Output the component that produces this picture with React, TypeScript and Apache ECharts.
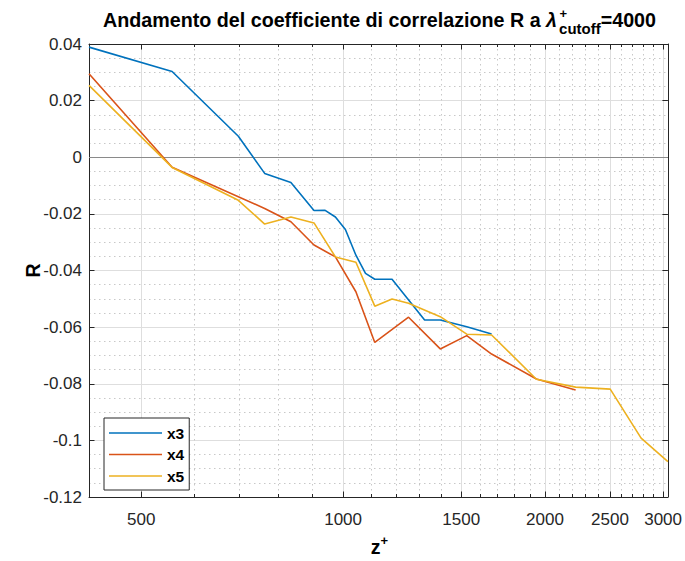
import React, { useEffect, useRef } from "react";
import * as echarts from "echarts";

// ---- data ----
const seriesNames = ["x3", "x4", "x5"];

const zX3 = [418, 556, 698, 764, 836, 905, 939, 974, 1008, 1045, 1080, 1115, 1183, 1323, 1396, 1529, 1665];
const rX3 = [0.0389, 0.0303, 0.0074, -0.0057, -0.0089, -0.0188, -0.0187, -0.0211, -0.0255, -0.0346, -0.041, -0.0431, -0.0431, -0.0575, -0.0575, -0.0599, -0.0624];

const zX4 = [418, 556, 764, 836, 905, 974, 1045, 1115, 1252, 1396, 1529, 1665, 1942, 2222];
const rX4 = [0.0295, -0.0035, -0.0181, -0.0228, -0.031, -0.0352, -0.0475, -0.0654, -0.0565, -0.0677, -0.063, -0.0695, -0.0783, -0.0822];

const zX5 = [418, 556, 698, 764, 836, 905, 974, 1045, 1115, 1183, 1252, 1396, 1529, 1665, 1942, 2222, 2502, 2782, 3050];
const rX5 = [0.0254, -0.0036, -0.0152, -0.0236, -0.0211, -0.0232, -0.0352, -0.0371, -0.0526, -0.0501, -0.0516, -0.0563, -0.0625, -0.0628, -0.0784, -0.0812, -0.0819, -0.0992, -0.1075];

const xMajorTicks = [500, 1000, 1500, 2000, 2500, 3000];
const xMinorTicks = [600, 700, 800, 900, 1100, 1200, 1300, 1400, 1600, 1700, 1800, 1900, 2100, 2200, 2300, 2400, 2600, 2700, 2800, 2900];
const yMin = -0.12;
const yMax = 0.04;
const yInterval = 0.02;

const titleMain = "Andamento del coefficiente di correlazione R a ";
const titleLambda = "λ";
const titleSup = "+";
const titleSub = "cutoff";
const titleEnd = "=4000";

const colors = ["#0072BD", "#D95319", "#EDB120"];

// ---- layout ----
const W = 685;
const H = 561;
const G_LEFT = 89;
const G_RIGHT = 15;
const G_TOP = 44;
const G_BOTTOM = 64;
const FONT = "'Liberation Sans', Arial, Helvetica, sans-serif";
const AX = "#262626";

function textWidth(t: string, font: string): number {
  const c = document.createElement("canvas").getContext("2d");
  if (!c) return t.length * 10;
  c.font = font;
  return c.measureText(t).width;
}

// y for verticalAlign middle so that alphabetic baseline lands on `base`
const mid = (base: number, size: number) => base - 0.3465 * size;

export default function App() {
  const ref = useRef<HTMLDivElement>(null);

  useEffect(() => {
    document.body.style.margin = "0";
    if (!ref.current) return;
    const chart = echarts.init(ref.current, undefined, { renderer: "svg" });

    const lg = (v: number) => Math.log10(v);
    const allZ = [...zX3, ...zX4, ...zX5];
    const xMin = lg(Math.min(...allZ));
    const xMax = lg(Math.max(...allZ));
    const majorsL = xMajorTicks.map(lg);
    const minorsL = xMinorTicks.map(lg);

    const zs = [zX3, zX4, zX5];
    const rs = [rX3, rX4, rX5];

    // ---- title layout ----
    const TS = 19.7;
    const SS = 15;
    const PS = 13;
    const fMain = `bold ${TS}px ${FONT}`;
    const fLam = `italic bold ${TS}px ${FONT}`;
    const wMain = textWidth(titleMain, fMain);
    const wLam = textWidth(titleLambda, fLam);
    const wSup = textWidth(titleSup, `bold ${PS}px ${FONT}`);
    const wSub = textWidth(titleSub, `bold ${SS}px ${FONT}`);
    const wEnd = textWidth(titleEnd, fMain);
    const gap = 2;
    const total = wMain + wLam + gap + Math.max(wSup, wSub) + wEnd;
    const cx = G_LEFT + (W - G_LEFT - G_RIGHT) / 2;
    const x0 = cx - total / 2;
    const baseT = 26.7;
    const txt = (x: number, y: number, text: string, size: number, extra: any = {}) => ({
      type: "text",
      x,
      y,
      silent: true,
      style: {
        text,
        fontSize: size,
        fontWeight: "bold",
        fontFamily: FONT,
        fill: "#000",
        align: "left",
        verticalAlign: "middle",
        ...extra,
      },
    });

    const xs = x0 + wMain + wLam + gap;
    const graphics: any[] = [
      txt(x0, mid(baseT, TS), titleMain, TS),
      txt(x0 + wMain, mid(baseT, TS), titleLambda, TS, { fontStyle: "italic" }),
      txt(xs + 0.5, mid(18.3, PS), titleSup, PS, { lineHeight: 9 }),
      txt(xs, mid(33.6, SS), titleSub, SS, { lineHeight: 11 }),
      txt(xs + Math.max(wSup, wSub), mid(baseT, TS), titleEnd, TS),
    ];

    // x-axis name z^+
    const NS = 19.5;
    const wz = textWidth("z", `bold ${NS}px ${FONT}`);
    const zx0 = cx - (wz + textWidth("+", `bold 13px ${FONT}`)) / 2;
    graphics.push(txt(zx0, mid(554, NS), "z", NS, { lineHeight: 12 }));
    graphics.push(txt(zx0 + wz, mid(545, 13), "+", 13, { lineHeight: 8 }));

    const baseX = { type: "value", min: xMin, max: xMax, gridIndex: 0 };
    const lineSt = { color: AX, width: 1 };

    const option: any = {
      animation: false,
      backgroundColor: "#fff",
      color: colors,
      grid: { left: G_LEFT, right: G_RIGHT, top: G_TOP, bottom: G_BOTTOM, containLabel: false },
      legend: {
        orient: "vertical",
        left: 104,
        top: 418,
        data: seriesNames,
        icon: "rect",
        itemWidth: 53,
        itemHeight: 1.6,
        itemGap: 1.5,
        padding: [5, 5, 4, 5],
        borderColor: AX,
        borderWidth: 1,
        borderRadius: 0,
        backgroundColor: "#fff",
        textStyle: { fontSize: 15.5, fontWeight: "bold", color: "#000", fontFamily: FONT, lineHeight: 20 },
      },
      xAxis: [
        {
          ...baseX,
          position: "bottom",
          axisLine: { show: true, onZero: false, lineStyle: lineSt },
          axisTick: { show: true, inside: true, length: 5.5, customValues: majorsL, lineStyle: lineSt },
          axisLabel: {
            customValues: majorsL,
            formatter: (v: number) => String(Math.round(Math.pow(10, v))),
            margin: 14,
            fontSize: 17,
            color: AX,
            fontFamily: FONT,
          },
          splitLine: { show: true, lineStyle: { color: "#dedede", width: 1 } },
        },
        {
          ...baseX,
          position: "bottom",
          axisLine: { show: false, onZero: false },
          axisTick: { show: true, inside: true, length: 3, customValues: minorsL, lineStyle: lineSt },
          axisLabel: { show: false, customValues: minorsL },
          splitLine: { show: true, lineStyle: { color: "#c8c8c8", width: 1, type: [1.5, 3.5] } },
        },
        {
          ...baseX,
          position: "top",
          axisLine: { show: true, onZero: false, lineStyle: lineSt },
          axisTick: { show: true, inside: true, length: 5.5, customValues: majorsL, lineStyle: lineSt },
          axisLabel: { show: false, customValues: majorsL },
          splitLine: { show: false },
        },
        {
          ...baseX,
          position: "top",
          axisLine: { show: false, onZero: false },
          axisTick: { show: true, inside: true, length: 3, customValues: minorsL, lineStyle: lineSt },
          axisLabel: { show: false, customValues: minorsL },
          splitLine: { show: false },
        },
      ],
      yAxis: [
        {
          type: "value",
          position: "left",
          min: yMin,
          max: yMax,
          interval: yInterval,
          name: "R",
          nameLocation: "middle",
          nameRotate: 90,
          nameGap: 46,
          nameMoveOverlap: false,
          nameTextStyle: { fontSize: 19.5, fontWeight: "bold", color: "#000", fontFamily: FONT },
          axisLine: { show: true, onZero: false, lineStyle: lineSt },
          axisTick: { show: true, inside: true, length: 5.5, lineStyle: lineSt },
          axisLabel: {
            margin: 7,
            fontSize: 17,
            color: AX,
            fontFamily: FONT,
            formatter: (v: number) => String(parseFloat(v.toFixed(3))),
          },
          splitLine: { show: true, lineStyle: { color: "#dedede", width: 1 } },
          minorTick: { show: false, splitNumber: 4 },
          minorSplitLine: { show: true, lineStyle: { color: "#c8c8c8", width: 1, type: [1.5, 3.5] } },
        },
        {
          type: "value",
          position: "right",
          min: yMin,
          max: yMax,
          interval: yInterval,
          axisLine: { show: true, onZero: false, lineStyle: lineSt },
          axisTick: { show: true, inside: true, length: 5.5, lineStyle: lineSt },
          axisLabel: { show: false },
          splitLine: { show: false },
        },
      ],
      series: seriesNames.map((name, i) => ({
        name,
        type: "line",
        xAxisIndex: 0,
        yAxisIndex: 0,
        symbol: "none",
        data: zs[i].map((z, j) => [lg(z), rs[i][j]]),
        lineStyle: { width: 1.6, color: colors[i] },
        itemStyle: { color: colors[i] },
        z: 3 + i,
        ...(i === 0
          ? {
              markLine: {
                silent: true,
                symbol: "none",
                label: { show: false },
                lineStyle: { color: "#8a8a8a", width: 1.2, type: "solid" },
                data: [{ yAxis: 0 }],
                z: 1,
              },
            }
          : {}),
      })),
      graphic: graphics,
    };

    chart.setOption(option);
    return () => chart.dispose();
  }, []);

  return <div ref={ref} style={{ width: W, height: H }} />;
}
